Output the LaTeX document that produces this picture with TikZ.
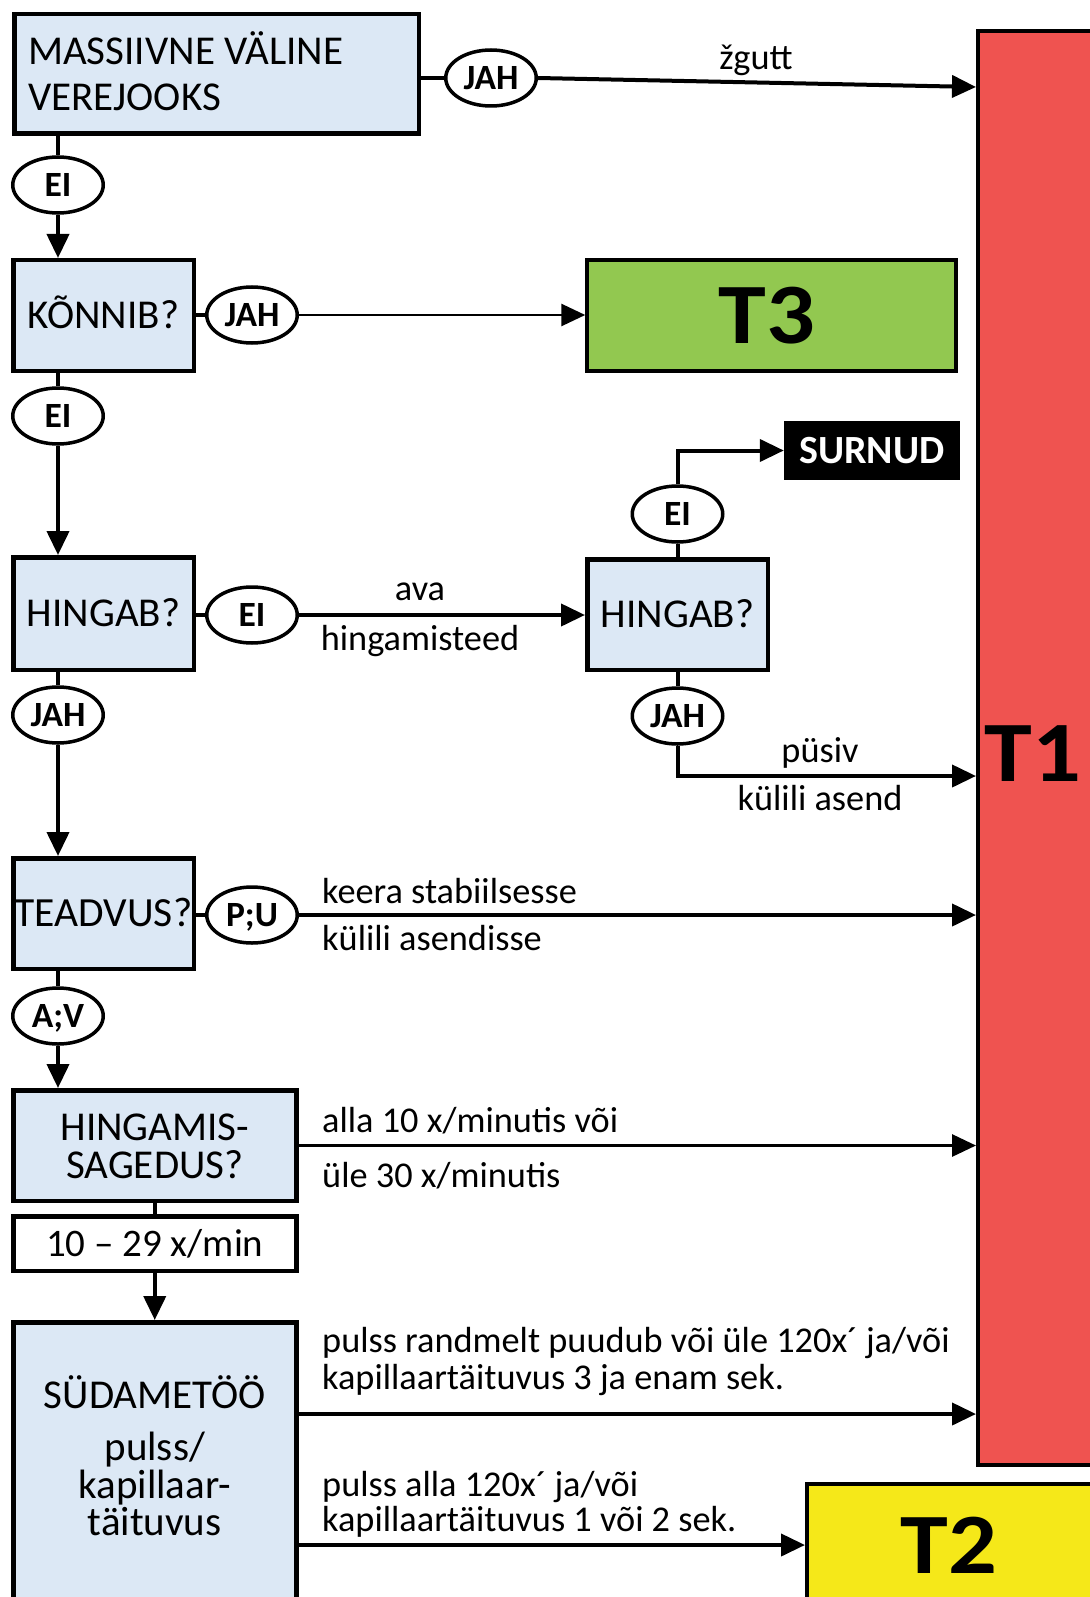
\documentclass[tikz,border=0pt]{standalone}
\usepackage{fontspec}
\usepackage{graphicx}
\setmainfont{Carlito}
\usetikzlibrary{arrows.meta,shapes.geometric,calc}
\definecolor{lblue}{HTML}{DCE8F5}
\definecolor{tred}{HTML}{EF5350}
\definecolor{tgreen}{HTML}{92C850}
\definecolor{tyellow}{HTML}{F5E819}
\newcommand{\bigT}[1]{\scalebox{1.12}[1]{#1}}
\begin{document}
\begin{tikzpicture}[x=1pt,y=-1pt,
  qbox/.style={draw,line width=4.5pt,fill=lblue,inner sep=0pt,
    font=\fontsize{41}{41}\selectfont,text height=26pt,text depth=0pt},
  yn/.style={ellipse,draw,line width=3.5pt,fill=white,minimum width=90.5pt,
    minimum height=56pt,inner sep=0pt,font=\bfseries\fontsize{35.5}{35.5}\selectfont,
    text height=23pt,text depth=0pt},
  arr/.style={line width=4pt,-{Triangle[length=24pt,width=22pt]}},
  ln/.style={line width=4pt},
  lbl/.style={font=\fontsize{36.3}{36.3}\selectfont,inner sep=0pt},
  btxt/.style={font=\fontsize{41}{41}\selectfont,inner sep=0pt},
  tbox/.style={draw,line width=4pt,inner sep=0pt},
  ttxt/.style={inner sep=0pt,font=\bfseries\fontsize{86}{86}\selectfont,text height=55pt,text depth=0pt}]
\useasboundingbox (0,0) rectangle (1089,1597);
\fill[white] (0,0) rectangle (1089,1597);

% outcome boxes
\node[tbox,fill=tred,minimum width=115pt,minimum height=1434pt] (t1) at (1035.5,748) {};
\node[ttxt] (t1txt) at (1033,754) {\bigT{T1}};
\node[tbox,fill=tgreen,minimum width=368.5pt,minimum height=110.5pt] (t3) at (771.5,315.5) {};
\node[ttxt] (t3txt) at (767,316) {\bigT{T3}};
\node[tbox,fill=tyellow,minimum width=286pt,minimum height=130pt] (t2) at (950,1549) {};
\node[ttxt] (t2txt) at (949,1546) {\bigT{T2}};
\node[fill=black,text=white,minimum width=176pt,minimum height=59pt,inner sep=0pt,
  font=\bfseries\fontsize{40}{40}\selectfont,text height=26pt,text depth=0pt] (su) at (872,450.5) {SURNUD};

% question boxes
\node[qbox,minimum width=404.5pt,minimum height=119.5pt] (b1) at (216.5,74) {};
\node[btxt,anchor=base west] (b1a) at (28,64.5) {MASSIIVNE VÄLINE};
\node[btxt,anchor=base west] (b1b) at (28,110.5) {VEREJOOKS};
\node[qbox,minimum width=180.5pt,minimum height=110.5pt] (kn) at (103.5,315.5) {KÕNNIB?};
\node[qbox,minimum width=180.5pt,minimum height=112.5pt] (hg1) at (103.5,613.5) {HINGAB?};
\node[qbox,minimum width=180.5pt,minimum height=110.5pt] (hg2) at (677.5,614.5) {HINGAB?};
\node[qbox,minimum width=180.5pt,minimum height=110.5pt,font=\fontsize{41.5}{41.5}\selectfont] (te) at (103.5,913.5) {TEADVUS?};
\node[qbox,minimum width=283pt,minimum height=110.5pt] (hs) at (154.75,1145.5) {};
\node[btxt,anchor=base] (hsa) at (154.75,1140) {HINGAMIS-};
\node[btxt,anchor=base] (hsb) at (154.75,1178) {SAGEDUS?};
\node[qbox,fill=white,minimum width=283pt,minimum height=54.5pt,font=\fontsize{39}{39}\selectfont] (r1029) at (154.75,1243.5) {10 – 29 x/min};
\node[qbox,minimum width=283pt,minimum height=290.5pt] (sd) at (154.75,1467.5) {};
\node[btxt,anchor=base] (sda) at (154.75,1408) {SÜDAMETÖÖ};
\node[btxt,anchor=base] (sdb) at (154.75,1460) {pulss/};
\node[btxt,anchor=base] (sdc) at (154.75,1498) {kapillaar-};
\node[btxt,anchor=base] (sdd) at (154.75,1535) {täituvus};

% yes / no ellipses
\node[yn] (j1) at (491,78) {JAH};
\node[yn] (e1) at (58,185) {EI};
\node[yn] (j2) at (252,315) {JAH};
\node[yn] (e2) at (58,416) {EI};
\node[yn] (e3) at (252,615) {EI};
\node[yn] (e4) at (677.5,514) {EI};
\node[yn] (j3) at (677.5,716) {JAH};
\node[yn] (j4) at (58,715) {JAH};
\node[yn] (pu) at (252,915) {P;U};
\node[yn] (av) at (58,1016) {A;V};

% helper coordinates
\coordinate (zg) at (976,87);
\coordinate (y776) at (0,776);
\coordinate (y1414) at (0,1414);
\coordinate (y1545) at (0,1545);

% connectors
\draw[ln] (b1.east |- j1) -- (j1.west);
\draw[arr] (j1.east) -- (zg);
\node[lbl,anchor=base] (lzg) at (756,70) {žgutt};

\draw[ln] (b1.south -| e1) -- (e1.north);
\draw[arr] (e1.south) -- (kn.north -| e1);

\draw[ln] (kn.east |- j2) -- (j2.west);
\draw[arr,line width=2.8pt] (j2.east) -- (t3.west |- j2);

\draw[ln] (kn.south -| e2) -- (e2.north);
\draw[arr] (e2.south) -- (hg1.north -| e2);

\draw[ln] (hg1.east |- e3) -- (e3.west);
\draw[arr] (e3.east) -- (hg2.west |- e3);
\node[lbl,anchor=base] (lava) at (420,600) {ava};
\node[lbl,anchor=base] (lhin) at (420,650) {hingamisteed};

\draw[ln] (hg2.north) -- (e4.south);
\draw[arr] (e4.north) |- (su.west);

\draw[ln] (hg2.south) -- (j3.north);
\draw[arr] (j3.south) |- (t1.west |- y776);
\node[lbl,anchor=base] (lpu) at (820,762) {püsiv};
\node[lbl,anchor=base] (lka) at (820,810) {külili asend};

\draw[ln] (hg1.south -| j4) -- (j4.north);
\draw[arr] (j4.south) -- (te.north -| j4);

\draw[ln] (te.east |- pu) -- (pu.west);
\draw[arr] (pu.east) -- (pu.east -| t1.west);
\node[lbl,anchor=base west] (lke) at (322,903) {keera stabiilsesse};
\node[lbl,anchor=base west] (lkl) at (322,950) {külili asendisse};

\draw[ln] (te.south -| av) -- (av.north);
\draw[arr] (av.south) -- (hs.north -| av);

\draw[arr,line width=3pt] (hs.east) -- (hs.east -| t1.west);
\node[lbl,anchor=base west] (lal) at (322,1132) {alla 10 x/minutis või};
\node[lbl,anchor=base west] (lul) at (322,1187) {üle 30 x/minutis};

\draw[ln] (hs.south) -- (r1029.north);
\draw[arr] (r1029.south) -- (sd.north);

\draw[arr] (sd.east |- y1414) -- (t1.west |- y1414);
\node[lbl,anchor=base west] (lp1) at (322,1352) {pulss randmelt puudub või üle 120x´ ja/või};
\node[lbl,anchor=base west] (lk1) at (322,1389) {kapillaartäituvus 3 ja enam sek.};

\draw[arr] (sd.east |- y1545) -- (t2.west |- y1545);
\node[lbl,anchor=base west] (lp2) at (322,1496) {pulss alla 120x´ ja/või};
\node[lbl,anchor=base west] (lk2) at (322,1531) {kapillaartäituvus 1 või 2 sek.};
\end{tikzpicture}
\end{document}
